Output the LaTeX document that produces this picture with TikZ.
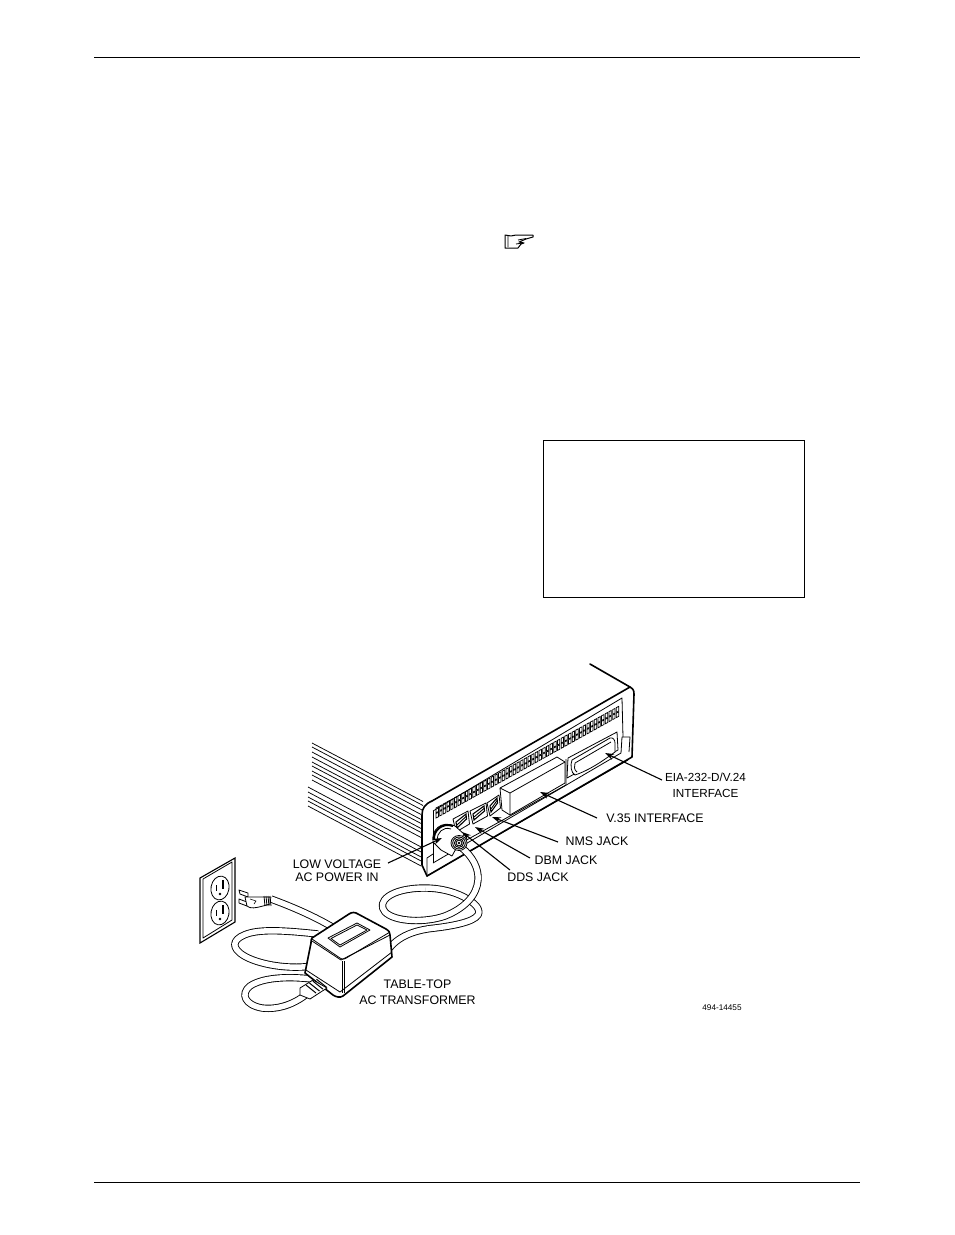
\documentclass[tikz,border=0pt]{standalone}
\usepackage{fontspec}
\setmainfont{Liberation Sans}
\usetikzlibrary{arrows.meta}
\tikzset{
  lbl/.style={font=\fontsize{12.4}{13}\selectfont,inner sep=0pt,align=center,text=black},
  lblwide/.style={font=\fontsize{12.4}{16}\selectfont,inner sep=0pt,align=center,text=black},
  leader/.style={line width=1.1pt,-{Stealth[length=9pt,width=6pt]}},
  ink/.style={line width=.8pt,line join=round},
  heavy/.style={line width=1.6pt,line join=round,line cap=round},
  thin/.style={line width=.6pt,line join=round},
  cable/.style={line width=.9pt,double=white,double distance=5.5pt,line join=round},
  rule/.style={line width=.8pt},
}
\begin{document}
\begin{tikzpicture}[x=1pt,y=-1pt]
\useasboundingbox (0,0) rectangle (954,1235);
\fill[white] (0,0) rectangle (954,1235);
% page rules and box
\draw[rule] (94,57) -- (860,57);
\draw[rule] (94,1182) -- (860,1182);
\draw[line width=.7pt] (543.5,440.5) rectangle (804.5,597.5);
% pointing hand
\draw[line width=1pt,line join=round] (505,235) -- (505,248) -- (518,248) -- (521,244) -- (524,243) -- (519,242) -- (526,239) -- (533,237) -- (533,235) -- (516,235) -- (511,236) -- cycle;
\draw[line width=.8pt] (508,236) -- (508,247) (518,240) -- (526,238.5) (516,244) -- (523,243);
% device side stripes
\foreach \s in {743,747,752,757,762,766,771,775,780}
  \draw[line width=.75pt] (312,\s) -- (423,\s+58.5);
\foreach \s in {787,792,797,801,806}
  \draw[line width=.75pt] (308,\s) -- (423,\s+61);
% device front
\path[fill=white] (428,804) -- (632,691) -- (632,757) -- (428,875) -- (421,866) -- (421,813) -- cycle;
\draw[heavy] (590,664) -- (630,687) .. controls (633,689) and (634,690) .. (634,694) -- (632,757) -- (427,876);
\draw[heavy] (630,687) -- (432,801) .. controls (425,804) and (422,808) .. (422,815) -- (422,865) -- (427,876);
\draw[ink] (427,876) -- (427,858) -- (433,854);
\draw[ink] (427,876) -- (628,760);
\draw[ink] (433,863) -- (621,753) -- (622,737) -- (630,737) -- (629,752);
\draw[ink] (433,811) -- (622,698) -- (623,737);
\draw[ink] (433,811) -- (433,863);
\draw[ink] (463,842) -- (566,785) -- (566,759);
% vent slots
\foreach \i in {0,...,49}{
  \pgfmathsetmacro{\xx}{436+3.68*\i}
  \pgfmathsetmacro{\yt}{808-2.05*\i}
  \pgfmathsetmacro{\yb}{818-2.05*\i}
  \pgfmathsetmacro{\ym}{(\yt+\yb)/2}
  \draw[line width=.75pt] (\xx,\yt) -- (\xx+2.4,\yt-1.2) -- (\xx+2.4,\ym-1.5) -- (\xx,\ym-.3) -- cycle;
  \draw[line width=.75pt] (\xx,\ym+.5) -- (\xx+2.4,\ym-.7) -- (\xx+2.4,\yb-1.2) -- (\xx,\yb) -- cycle;
}
% jacks
\foreach \p/\q/\r/\s in {453/819/468/811,470/811/486/803,487/803/499/795}{
  \draw[ink,fill=white] (\p,\q) -- (\r,\s) -- (\r+1.5,\s+13) -- (\p+3,\q+13) -- cycle;
  \draw[line width=1.1pt] (\p+3,\q+3) -- (\r-2,\s+3) -- (\r-1.5,\s+8) -- (\p+4,\q+9) -- cycle;
  \draw[line width=.9pt] (\p+4,\q+6) -- (\r-2,\s+5.5);
}
% V.35 block
\draw[ink,fill=white] (500,788) -- (557,757) -- (565,762) -- (565,783) -- (510,815) -- (502,810) -- cycle;
\draw[ink] (510,793) -- (565,762) (510,793) -- (500,788) (510,793) -- (510,815);
% EIA connector
\draw[ink] (568,758) -- (617,732) -- (618,750) -- (567,778) -- cycle;
\draw[ink,fill=white] (572,760) -- (610,738) .. controls (613,737) and (615,740) .. (615,743) -- (615,752) .. controls (604,760) and (590,770) .. (575,775) .. controls (571,773) and (570,765) .. (572,760) -- cycle;
\draw[ink] (575,763) -- (611,742) (577,772) .. controls (574,770) and (574,766) .. (575,763);
% power socket
\draw[ink,fill=white] (433,842) .. controls (431,830) and (441,820) .. (455,826) -- (464,834) -- (452,856) -- (441,850) -- cycle;
\draw[line width=2pt] (434,840) .. controls (433,831) and (442,822) .. (453,826);
\draw[ink] (437,840) .. controls (437,833) and (443,826) .. (451,829);
% cables
\draw[cable] (271,899) .. controls (290,906) and (320,918) .. (345,935);
\draw[cable] (318,934) .. controls (290,931) and (265,929) .. (250,933) .. controls (235,937) and (230,945) .. (240,953) .. controls (252,963) and (285,970) .. (312,966);
\draw[cable] (312,979) .. controls (285,976) and (262,978) .. (250,986) .. controls (240,994) and (245,1005) .. (262,1008) .. controls (280,1010) and (296,1003) .. (308,993);
\draw[cable] (388,950) .. controls (398,936) and (415,930) .. (435,928) .. controls (460,925) and (479,920) .. (479,912) .. controls (479,903) and (455,888) .. (425,888);
\draw[cable] (425,888) .. controls (390,888) and (376,902) .. (385,912) .. controls (395,922) and (425,923) .. (445,916) .. controls (465,908) and (477,895) .. (478,880) .. controls (479,868) and (472,856) .. (462,848);
% device plug
\draw[ink,fill=white] (459,843) ellipse [x radius=8,y radius=7.5];
\foreach \rr in {6.3,4.6,3}
  \draw[line width=.9pt] (459,843) ellipse [x radius=\rr,y radius=\rr*.95];
\fill (459,843) circle (1.4);
% wall outlet
\draw[line width=1.1pt,fill=white] (200,878) -- (235,858) -- (235,922) -- (200,943) -- cycle;
\draw[ink] (203,879) -- (232,862) -- (232,920) -- (203,938) -- cycle;
\foreach \cy in {888,913}{
  \begin{scope}[rotate around={-10:(220,\cy)}]
  \draw[ink] (220,\cy) ellipse [x radius=9,y radius=12];
  \end{scope}
  \draw[line width=1.3pt] (223,\cy-8) -- (223,\cy+1);
  \draw[line width=1.3pt] (216.5,\cy-3) -- (216.5,\cy+3);
  \fill (220,\cy+6) circle (1.3);
}
% wall plug
\draw[ink,fill=white] (239,890) -- (248,893) -- (248,897) -- (240,894) -- cycle;
\draw[ink,fill=white] (239,899) -- (247,902) -- (247,906) -- (239,903) -- cycle;
\draw[ink,fill=white] (245,897) -- (263,897) -- (270,897) -- (270,904) -- (263,906) .. controls (256,908) and (250,909) .. (247,906) -- cycle;
\draw[thin] (250,899) -- (256,901) -- (254,904);
\foreach \k in {0,2,4,6}
  \draw[line width=.8pt] (264+\k,896) -- (265+\k,906);
% transformer
\draw[heavy,fill=white] (312,938) -- (349,914) .. controls (352,912) and (355,912) .. (358,914) -- (386,929) .. controls (389,931) and (390,932) .. (390,935) -- (392,957) -- (343,996) .. controls (340,998) and (336,997) .. (333,995) -- (305,973) -- (311,943) .. controls (311,941) and (311,939) .. (312,938) -- cycle;
\draw[ink] (312,939) -- (340,958) .. controls (343,960) and (345,959) .. (348,957) -- (390,932);
\draw[ink] (312,941) -- (341,960) -- (390,935);
\draw[ink] (328,938) -- (357,923) -- (370,930) -- (340,947) -- cycle;
\draw[ink] (331,938.5) -- (357,925) -- (367,930) -- (340,945) -- cycle;
\draw[thin] (342,961) -- (342,993);
\draw[thin] (344,961) -- (344,993);
\draw[ink] (306,970) -- (340,992) -- (392,952);
% low-voltage connector
\draw[ink,fill=white] (300,988) -- (313,980) -- (327,988) -- (310,999) -- (300,995) -- cycle;
\foreach \k in {0,3.5,7,10.5}
  \draw[line width=1pt] (306+\k,985-\k*.55) -- (316+\k,993-\k*.55);
% labels
\node[lblwide,font=\fontsize{11.7}{16}\selectfont] (eia) at (705.5,785) {EIA-232-D/V.24\\INTERFACE};
\node[lbl] (v35) at (655,818) {V.35 INTERFACE};
\node[lbl] (nms) at (597,841) {NMS JACK};
\node[lbl] (dbm) at (566,860) {DBM JACK};
\node[lbl] (dds) at (538,877) {DDS JACK};
\node[lbl] (low) at (337,871) {LOW VOLTAGE\\AC POWER IN};
\node[lblwide] (tt) at (417.5,992) {TABLE-TOP\\AC TRANSFORMER};
\node[font=\fontsize{8.2}{10}\selectfont,inner sep=0pt] (num) at (722,1008) {494-14455};
% leaders
\coordinate (aeia) at (605,753);
\coordinate (av) at (540,792);
\coordinate (an) at (492,817);
\coordinate (ad) at (475,827);
\coordinate (add) at (462,832);
\coordinate (al) at (442,838);
\coordinate (sl) at (388,863);
\coordinate (se) at (662,780);
\coordinate (sv) at (597,818);
\coordinate (sn) at (558,842);
\coordinate (sd) at (530,858);
\coordinate (sdd) at (510,870);
\draw[leader] (se) -- (aeia);
\draw[leader] (sv) -- (av);
\draw[leader] (sn) -- (an);
\draw[leader] (sd) -- (ad);
\draw[leader] (sdd) -- (add);
\draw[leader] (sl) -- (al);
\end{tikzpicture}
\end{document}
